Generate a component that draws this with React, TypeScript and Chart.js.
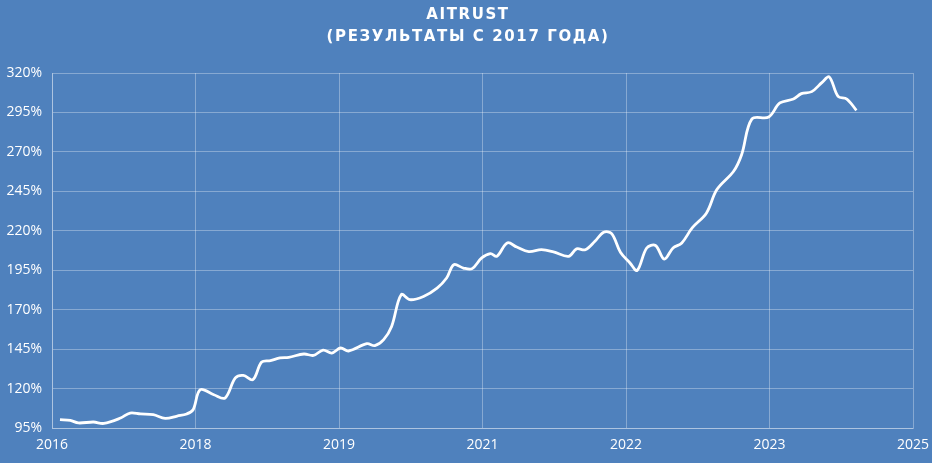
import React, { useEffect, useRef } from 'react';
import { Chart, registerables } from 'chart.js';

Chart.register(...registerables);

// x positions are months since Jan 2016
const months = [
  1.0, 2.3, 3.3, 5.2, 6.5, 8.6, 9.8, 11.1, 12.7, 14.2, 15.7, 16.9, 17.7, 18.6, 20.3, 21.7,
  23.0, 24.0, 25.2, 26.3, 27.4, 28.6, 29.7, 31.6, 32.8, 34.0, 35.1, 36.2, 37.2, 39.5, 40.5,
  41.6, 42.6, 43.8, 44.9, 46.6, 48.3, 49.5, 50.4, 51.6, 52.7, 53.9, 55.0, 55.8, 57.1, 58.3,
  59.8, 61.4, 62.9, 64.8, 65.8, 66.9, 68.1, 69.2, 70.2, 71.3, 72.5, 73.4, 74.6, 75.7, 76.8,
  77.9, 79.0, 80.3, 82.1, 83.4, 85.5, 86.5, 87.8, 89.9, 91.3, 93.0, 94.0, 95.3, 96.6, 97.5,
  98.6, 99.7, 100.9,
];
const results = [
  100.3, 99.8, 98.2, 98.8, 97.9, 101.3, 104.5, 103.9, 103.4, 101.1, 102.6, 103.9, 106.6, 119.3,
  116.1, 114.0, 126.7, 128.3, 125.6, 136.8, 137.7, 139.4, 139.8, 141.9, 141.0, 144.4, 142.5,
  145.7, 143.8, 148.4, 147.2, 151.0, 159.4, 179.5, 176.3, 178.4, 183.7, 190.1, 198.5, 196.4,
  196.0, 202.8, 205.5, 203.8, 212.3, 209.7, 206.8, 208.0, 206.6, 203.8, 208.5, 208.0, 213.3,
  219.1, 218.2, 206.4, 199.6, 194.9, 209.1, 210.7, 202.1, 209.1, 212.3, 221.8, 231.3, 246.1,
  257.7, 268.2, 290.9, 292.1, 301.0, 303.5, 306.9, 308.2, 314.1, 317.5, 305.2, 303.5, 296.3,
];
const xTickLabels = ['2016', '2018', '2019', '2021', '2022', '2023', '2025'];
const titleLines = ['AITRUST', '(РЕЗУЛЬТАТЫ С 2017 ГОДА)'];

const BG = '#4F81BD';
const GRID = 'rgba(255,255,255,0.32)';
const FONT = '"Open Sans", sans-serif';

const backgroundPlugin = {
  id: 'bg',
  beforeDraw(chart: any) {
    const { ctx, width, height } = chart;
    ctx.save();
    ctx.fillStyle = BG;
    ctx.fillRect(0, 0, width, height);
    ctx.restore();
  },
};

// title drawn by hand so letter spacing can be set
const spacedTitlePlugin = {
  id: 'spacedTitle',
  afterDraw(chart: any) {
    const { ctx, width } = chart;
    ctx.save();
    ctx.fillStyle = '#ffffff';
    ctx.font = 'bold 15px "DejaVu Sans", sans-serif';
    (ctx as any).letterSpacing = '1.6px';
    ctx.textAlign = 'center';
    ctx.textBaseline = 'middle';
    titleLines.forEach((line, i) => ctx.fillText(line, width / 2 + 2, 15 + i * 22));
    ctx.restore();
  },
};

export default function App() {
  const canvasRef = useRef<HTMLCanvasElement>(null);

  useEffect(() => {
    document.body.style.margin = '0';
    if (!canvasRef.current) return;

    const chart = new Chart(canvasRef.current, {
      type: 'line',
      data: {
        datasets: [
          {
            data: months.map((m, i) => ({ x: m, y: results[i] })),
            borderColor: '#ffffff',
            borderWidth: 2.8,
            pointRadius: 0,
            tension: 0.35,
            fill: false,
          },
        ],
      },
      options: {
        animation: false,
        responsive: false,
        maintainAspectRatio: false,
        layout: { padding: { top: 73, right: 19, bottom: 0, left: 0 } },
        plugins: {
          legend: { display: false },
          title: { display: false },
          tooltip: { enabled: false },
        },
        scales: {
          x: {
            type: 'linear',
            min: 0,
            max: 108,
            grid: { color: GRID, drawTicks: false },
            border: { color: GRID },
            ticks: {
              stepSize: 18,
              color: '#ffffff',
              font: { family: FONT, size: 14 },
              padding: 9,
              maxRotation: 0,
              callback: (_v: any, i: number) => xTickLabels[i],
            },
            afterFit: (s: any) => {
              s.height = 35;
              s.paddingLeft = 0;
              s.paddingRight = 0;
            },
          },
          y: {
            min: 95,
            max: 320,
            grid: { color: GRID, drawTicks: false },
            border: { color: GRID },
            ticks: {
              stepSize: 25,
              color: '#ffffff',
              font: { family: FONT, size: 14 },
              padding: 10,
              callback: (v: any) => v + '%',
            },
            afterFit: (s: any) => {
              s.width = 52;
            },
          },
        },
      },
      plugins: [backgroundPlugin, spacedTitlePlugin],
    });

    return () => chart.destroy();
  }, []);

  return <canvas ref={canvasRef} width={932} height={463} style={{ display: 'block' }} />;
}
